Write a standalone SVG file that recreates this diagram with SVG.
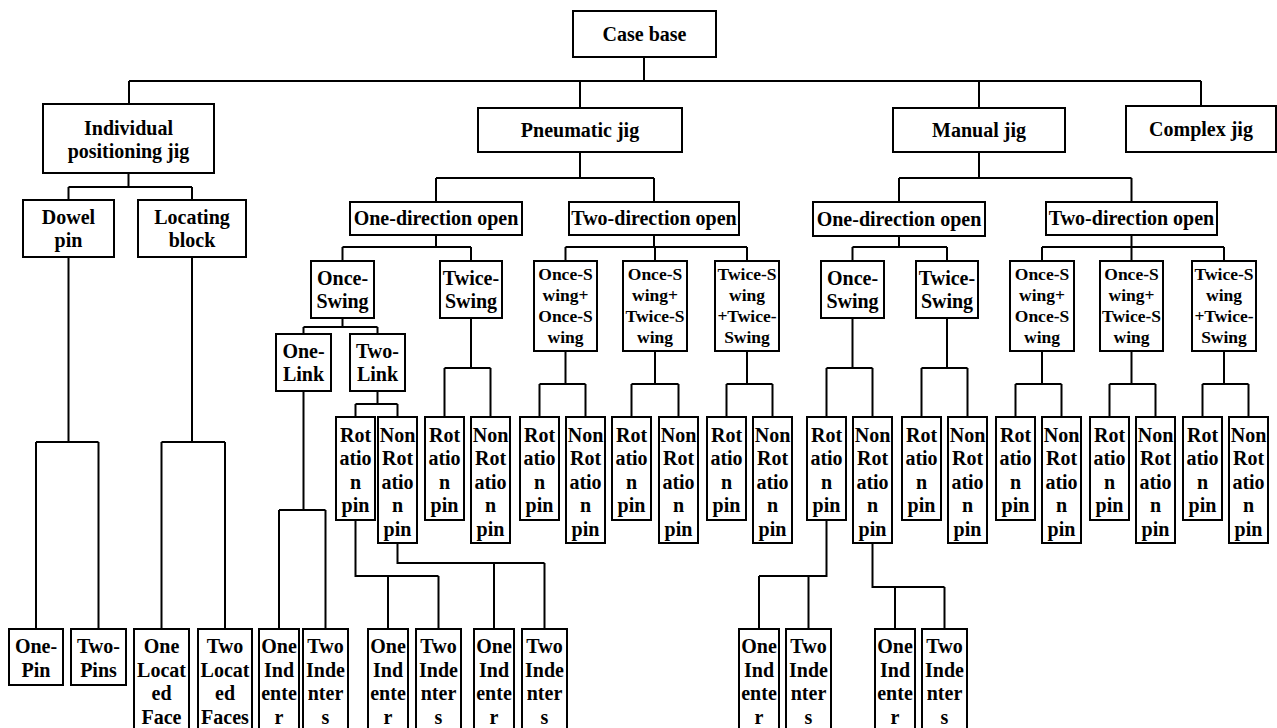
<svg xmlns="http://www.w3.org/2000/svg" width="1277" height="728" viewBox="0 0 1277 728">
<style>
.b{fill:#fff;stroke:#000;stroke-width:2}
.t{font-family:"Liberation Serif","Times New Roman",serif;font-weight:bold;font-size:20px;text-anchor:middle;fill:#000}
.s{font-size:17.5px}
.c{fill:none;stroke:#000;stroke-width:2}
</style>
<rect width="1277" height="728" fill="#fff"/>
<g id="connectors" class="c">
<path d="M644,57V81M129,81H1201M129,81V104M580,81V108M979,81V108M1201,81V106"/>
<path d="M128.5,173V187M68.5,187H192M68.5,187V200M192,187V200"/>
<path d="M68.5,257V442M36,442H98.5M36,442V629M98.5,442V629"/>
<path d="M192,257V442M161.5,442H225M161.5,442V629M225,442V629"/>
<path d="M580,152V178M436,178H654M436,178V202M654,178V202"/>
<path d="M436,235V247M342.5,247H471M342.5,247V261M471,247V261"/>
<path d="M654,235V247M565.5,247H747M565.5,247V261M655,247V261M747,247V261"/>
<path d="M342.5,318V327M303.5,327H377.5M303.5,327V334M377.5,327V334"/>
<path d="M303.5,391V510M279,510H325.5M279,510V629M325.5,510V629"/>
<path d="M377.5,391V404M355.5,404H397.5M355.5,404V417M397.5,404V417"/>
<path d="M471,318V368M444.5,368H490.5M444.5,368V417M490.5,368V417"/>
<path d="M565.5,351V384M539.5,384H585.5M539.5,384V417M585.5,384V417"/>
<path d="M655,351V384M631.5,384H678.5M631.5,384V417M678.5,384V417"/>
<path d="M747,351V384M726.5,384H772.5M726.5,384V417M772.5,384V417"/>
<path d="M355.5,520V576H438.5M388,576V629M438.5,576V629"/>
<path d="M397.5,543V563H544.5M494,563V629M544.5,563V629"/>
<path d="M979,152V178M899,178H1131.5M899,178V202M1131.5,178V202"/>
<path d="M899,236V247M852.5,247H947M852.5,247V261M947,247V261"/>
<path d="M1131.5,235V247M1042,247H1224M1042,247V261M1131.5,247V261M1224,247V261"/>
<path d="M852.5,318V368M826.5,368H872.5M826.5,368V417M872.5,368V417"/>
<path d="M947,318V368M921.5,368H967.5M921.5,368V417M967.5,368V417"/>
<path d="M1042,351V384M1015.5,384H1061.5M1015.5,384V417M1061.5,384V417"/>
<path d="M1131.5,351V384M1109.5,384H1155.5M1109.5,384V417M1155.5,384V417"/>
<path d="M1224,351V384M1202.5,384H1248.5M1202.5,384V417M1248.5,384V417"/>
<path d="M826.5,520V576H759M759,576V629M808.5,576V629"/>
<path d="M872.5,543V587H944.5M895,587V629M944.5,587V629"/>
</g>
<g id="case-base"><rect class="b" x="573" y="11" width="143" height="46"/><text class="t" x="644.5" y="41">Case base</text></g>
<g id="individual"><rect class="b" x="43" y="104" width="171" height="69"/><text class="t"><tspan x="128.5" y="135">Individual</tspan><tspan x="128.5" y="158">positioning jig</tspan></text></g>
<g id="pneumatic"><rect class="b" x="478" y="108" width="204" height="44"/><text class="t" x="580" y="137">Pneumatic jig</text></g>
<g id="manual"><rect class="b" x="893" y="108" width="172" height="44"/><text class="t" x="979" y="137">Manual jig</text></g>
<g id="complex"><rect class="b" x="1126" y="106" width="150" height="46"/><text class="t" x="1201" y="136">Complex jig</text></g>
<g id="dowel"><rect class="b" x="23" y="200" width="91" height="57"/><text class="t"><tspan x="68.5" y="223.5">Dowel</tspan><tspan x="68.5" y="246.5">pin</tspan></text></g>
<g id="locating"><rect class="b" x="138" y="200" width="108" height="57"/><text class="t"><tspan x="192" y="223.5">Locating</tspan><tspan x="192" y="246.5">block</tspan></text></g>
<g id="p-one-dir"><rect class="b" x="350" y="202" width="172" height="33"/><text class="t" x="436" y="225">One-direction open</text></g>
<g id="p-two-dir"><rect class="b" x="569" y="202" width="170" height="33"/><text class="t" x="654" y="225">Two-direction open</text></g>
<g id="m-one-dir"><rect class="b" x="813" y="202" width="172" height="34"/><text class="t" x="899" y="225.5">One-direction open</text></g>
<g id="m-two-dir"><rect class="b" x="1046" y="202" width="171" height="33"/><text class="t" x="1131.5" y="225">Two-direction open</text></g>
<g id="p-once-swing"><rect class="b" x="311" y="261" width="63" height="57"/><text class="t"><tspan x="342.5" y="284.5">Once-</tspan><tspan x="342.5" y="307.5">Swing</tspan></text></g>
<g id="p-twice-swing"><rect class="b" x="440" y="261" width="62" height="57"/><text class="t"><tspan x="471" y="284.5">Twice-</tspan><tspan x="471" y="307.5">Swing</tspan></text></g>
<g id="p-once-once"><rect class="b" x="534" y="261" width="63" height="90"/><text class="t s"><tspan x="565.5" y="280">Once-S</tspan><tspan x="565.5" y="301">wing+</tspan><tspan x="565.5" y="322">Once-S</tspan><tspan x="565.5" y="343">wing</tspan></text></g>
<g id="p-once-twice"><rect class="b" x="623" y="261" width="64" height="90"/><text class="t s"><tspan x="655" y="280">Once-S</tspan><tspan x="655" y="301">wing+</tspan><tspan x="655" y="322">Twice-S</tspan><tspan x="655" y="343">wing</tspan></text></g>
<g id="p-twice-twice"><rect class="b" x="715" y="261" width="64" height="90"/><text class="t s"><tspan x="747" y="280">Twice-S</tspan><tspan x="747" y="301">wing</tspan><tspan x="747" y="322">+Twice-</tspan><tspan x="747" y="343">Swing</tspan></text></g>
<g id="m-once-swing"><rect class="b" x="821" y="261" width="63" height="57"/><text class="t"><tspan x="852.5" y="284.5">Once-</tspan><tspan x="852.5" y="307.5">Swing</tspan></text></g>
<g id="m-twice-swing"><rect class="b" x="916" y="261" width="62" height="57"/><text class="t"><tspan x="947" y="284.5">Twice-</tspan><tspan x="947" y="307.5">Swing</tspan></text></g>
<g id="m-once-once"><rect class="b" x="1010" y="261" width="64" height="90"/><text class="t s"><tspan x="1042" y="280">Once-S</tspan><tspan x="1042" y="301">wing+</tspan><tspan x="1042" y="322">Once-S</tspan><tspan x="1042" y="343">wing</tspan></text></g>
<g id="m-once-twice"><rect class="b" x="1100" y="261" width="63" height="90"/><text class="t s"><tspan x="1131.5" y="280">Once-S</tspan><tspan x="1131.5" y="301">wing+</tspan><tspan x="1131.5" y="322">Twice-S</tspan><tspan x="1131.5" y="343">wing</tspan></text></g>
<g id="m-twice-twice"><rect class="b" x="1192" y="261" width="64" height="90"/><text class="t s"><tspan x="1224" y="280">Twice-S</tspan><tspan x="1224" y="301">wing</tspan><tspan x="1224" y="322">+Twice-</tspan><tspan x="1224" y="343">Swing</tspan></text></g>
<g id="one-link"><rect class="b" x="276" y="334" width="55" height="57"/><text class="t"><tspan x="303.5" y="357.5">One-</tspan><tspan x="303.5" y="380.5">Link</tspan></text></g>
<g id="two-link"><rect class="b" x="350" y="334" width="55" height="57"/><text class="t"><tspan x="377.5" y="357.5">Two-</tspan><tspan x="377.5" y="380.5">Link</tspan></text></g>
<g id="rot1"><rect class="b" x="336" y="417" width="39" height="103"/><text class="t"><tspan x="355.5" y="441.5">Rot</tspan><tspan x="355.5" y="465">atio</tspan><tspan x="355.5" y="488.5">n</tspan><tspan x="355.5" y="512">pin</tspan></text></g>
<g id="non1"><rect class="b" x="378" y="417" width="39" height="126"/><text class="t"><tspan x="397.5" y="441.5">Non</tspan><tspan x="397.5" y="465">Rot</tspan><tspan x="397.5" y="488.5">atio</tspan><tspan x="397.5" y="512">n</tspan><tspan x="397.5" y="535.5">pin</tspan></text></g>
<g id="rot2"><rect class="b" x="425" y="417" width="39" height="103"/><text class="t"><tspan x="444.5" y="441.5">Rot</tspan><tspan x="444.5" y="465">atio</tspan><tspan x="444.5" y="488.5">n</tspan><tspan x="444.5" y="512">pin</tspan></text></g>
<g id="non2"><rect class="b" x="471" y="417" width="39" height="126"/><text class="t"><tspan x="490.5" y="441.5">Non</tspan><tspan x="490.5" y="465">Rot</tspan><tspan x="490.5" y="488.5">atio</tspan><tspan x="490.5" y="512">n</tspan><tspan x="490.5" y="535.5">pin</tspan></text></g>
<g id="rot3"><rect class="b" x="520" y="417" width="39" height="103"/><text class="t"><tspan x="539.5" y="441.5">Rot</tspan><tspan x="539.5" y="465">atio</tspan><tspan x="539.5" y="488.5">n</tspan><tspan x="539.5" y="512">pin</tspan></text></g>
<g id="non3"><rect class="b" x="566" y="417" width="39" height="126"/><text class="t"><tspan x="585.5" y="441.5">Non</tspan><tspan x="585.5" y="465">Rot</tspan><tspan x="585.5" y="488.5">atio</tspan><tspan x="585.5" y="512">n</tspan><tspan x="585.5" y="535.5">pin</tspan></text></g>
<g id="rot4"><rect class="b" x="612" y="417" width="39" height="103"/><text class="t"><tspan x="631.5" y="441.5">Rot</tspan><tspan x="631.5" y="465">atio</tspan><tspan x="631.5" y="488.5">n</tspan><tspan x="631.5" y="512">pin</tspan></text></g>
<g id="non4"><rect class="b" x="659" y="417" width="39" height="126"/><text class="t"><tspan x="678.5" y="441.5">Non</tspan><tspan x="678.5" y="465">Rot</tspan><tspan x="678.5" y="488.5">atio</tspan><tspan x="678.5" y="512">n</tspan><tspan x="678.5" y="535.5">pin</tspan></text></g>
<g id="rot5"><rect class="b" x="707" y="417" width="39" height="103"/><text class="t"><tspan x="726.5" y="441.5">Rot</tspan><tspan x="726.5" y="465">atio</tspan><tspan x="726.5" y="488.5">n</tspan><tspan x="726.5" y="512">pin</tspan></text></g>
<g id="non5"><rect class="b" x="753" y="417" width="39" height="126"/><text class="t"><tspan x="772.5" y="441.5">Non</tspan><tspan x="772.5" y="465">Rot</tspan><tspan x="772.5" y="488.5">atio</tspan><tspan x="772.5" y="512">n</tspan><tspan x="772.5" y="535.5">pin</tspan></text></g>
<g id="rot6"><rect class="b" x="807" y="417" width="39" height="103"/><text class="t"><tspan x="826.5" y="441.5">Rot</tspan><tspan x="826.5" y="465">atio</tspan><tspan x="826.5" y="488.5">n</tspan><tspan x="826.5" y="512">pin</tspan></text></g>
<g id="non6"><rect class="b" x="853" y="417" width="39" height="126"/><text class="t"><tspan x="872.5" y="441.5">Non</tspan><tspan x="872.5" y="465">Rot</tspan><tspan x="872.5" y="488.5">atio</tspan><tspan x="872.5" y="512">n</tspan><tspan x="872.5" y="535.5">pin</tspan></text></g>
<g id="rot7"><rect class="b" x="902" y="417" width="39" height="103"/><text class="t"><tspan x="921.5" y="441.5">Rot</tspan><tspan x="921.5" y="465">atio</tspan><tspan x="921.5" y="488.5">n</tspan><tspan x="921.5" y="512">pin</tspan></text></g>
<g id="non7"><rect class="b" x="948" y="417" width="39" height="126"/><text class="t"><tspan x="967.5" y="441.5">Non</tspan><tspan x="967.5" y="465">Rot</tspan><tspan x="967.5" y="488.5">atio</tspan><tspan x="967.5" y="512">n</tspan><tspan x="967.5" y="535.5">pin</tspan></text></g>
<g id="rot8"><rect class="b" x="996" y="417" width="39" height="103"/><text class="t"><tspan x="1015.5" y="441.5">Rot</tspan><tspan x="1015.5" y="465">atio</tspan><tspan x="1015.5" y="488.5">n</tspan><tspan x="1015.5" y="512">pin</tspan></text></g>
<g id="non8"><rect class="b" x="1042" y="417" width="39" height="126"/><text class="t"><tspan x="1061.5" y="441.5">Non</tspan><tspan x="1061.5" y="465">Rot</tspan><tspan x="1061.5" y="488.5">atio</tspan><tspan x="1061.5" y="512">n</tspan><tspan x="1061.5" y="535.5">pin</tspan></text></g>
<g id="rot9"><rect class="b" x="1090" y="417" width="39" height="103"/><text class="t"><tspan x="1109.5" y="441.5">Rot</tspan><tspan x="1109.5" y="465">atio</tspan><tspan x="1109.5" y="488.5">n</tspan><tspan x="1109.5" y="512">pin</tspan></text></g>
<g id="non9"><rect class="b" x="1136" y="417" width="39" height="126"/><text class="t"><tspan x="1155.5" y="441.5">Non</tspan><tspan x="1155.5" y="465">Rot</tspan><tspan x="1155.5" y="488.5">atio</tspan><tspan x="1155.5" y="512">n</tspan><tspan x="1155.5" y="535.5">pin</tspan></text></g>
<g id="rot10"><rect class="b" x="1183" y="417" width="39" height="103"/><text class="t"><tspan x="1202.5" y="441.5">Rot</tspan><tspan x="1202.5" y="465">atio</tspan><tspan x="1202.5" y="488.5">n</tspan><tspan x="1202.5" y="512">pin</tspan></text></g>
<g id="non10"><rect class="b" x="1229" y="417" width="39" height="126"/><text class="t"><tspan x="1248.5" y="441.5">Non</tspan><tspan x="1248.5" y="465">Rot</tspan><tspan x="1248.5" y="488.5">atio</tspan><tspan x="1248.5" y="512">n</tspan><tspan x="1248.5" y="535.5">pin</tspan></text></g>
<g id="one-pin"><rect class="b" x="9" y="629" width="54" height="56"/><text class="t"><tspan x="36" y="653">One-</tspan><tspan x="36" y="676.5">Pin</tspan></text></g>
<g id="two-pins"><rect class="b" x="71" y="629" width="55" height="56"/><text class="t"><tspan x="98.5" y="653">Two-</tspan><tspan x="98.5" y="676.5">Pins</tspan></text></g>
<g id="one-face"><rect class="b" x="134" y="629" width="55" height="110"/><text class="t"><tspan x="161.5" y="653">One</tspan><tspan x="161.5" y="676.5">Locat</tspan><tspan x="161.5" y="700">ed</tspan><tspan x="161.5" y="723.5">Face</tspan></text></g>
<g id="two-faces"><rect class="b" x="198" y="629" width="54" height="110"/><text class="t"><tspan x="225" y="653">Two</tspan><tspan x="225" y="676.5">Locat</tspan><tspan x="225" y="700">ed</tspan><tspan x="225" y="723.5">Faces</tspan></text></g>
<g id="one-ind1"><rect class="b" x="259" y="629" width="40" height="110"/><text class="t"><tspan x="279" y="653">One</tspan><tspan x="279" y="676.5">Ind</tspan><tspan x="279" y="700">ente</tspan><tspan x="279" y="723.5">r</tspan></text></g>
<g id="two-ind1"><rect class="b" x="303" y="629" width="45" height="110"/><text class="t"><tspan x="325.5" y="653">Two</tspan><tspan x="325.5" y="676.5">Inde</tspan><tspan x="325.5" y="700">nter</tspan><tspan x="325.5" y="723.5">s</tspan></text></g>
<g id="one-ind2"><rect class="b" x="368" y="629" width="40" height="110"/><text class="t"><tspan x="388" y="653">One</tspan><tspan x="388" y="676.5">Ind</tspan><tspan x="388" y="700">ente</tspan><tspan x="388" y="723.5">r</tspan></text></g>
<g id="two-ind2"><rect class="b" x="416" y="629" width="45" height="110"/><text class="t"><tspan x="438.5" y="653">Two</tspan><tspan x="438.5" y="676.5">Inde</tspan><tspan x="438.5" y="700">nter</tspan><tspan x="438.5" y="723.5">s</tspan></text></g>
<g id="one-ind3"><rect class="b" x="474" y="629" width="40" height="110"/><text class="t"><tspan x="494" y="653">One</tspan><tspan x="494" y="676.5">Ind</tspan><tspan x="494" y="700">ente</tspan><tspan x="494" y="723.5">r</tspan></text></g>
<g id="two-ind3"><rect class="b" x="522" y="629" width="45" height="110"/><text class="t"><tspan x="544.5" y="653">Two</tspan><tspan x="544.5" y="676.5">Inde</tspan><tspan x="544.5" y="700">nter</tspan><tspan x="544.5" y="723.5">s</tspan></text></g>
<g id="one-ind4"><rect class="b" x="739" y="629" width="40" height="110"/><text class="t"><tspan x="759" y="653">One</tspan><tspan x="759" y="676.5">Ind</tspan><tspan x="759" y="700">ente</tspan><tspan x="759" y="723.5">r</tspan></text></g>
<g id="two-ind4"><rect class="b" x="786" y="629" width="45" height="110"/><text class="t"><tspan x="808.5" y="653">Two</tspan><tspan x="808.5" y="676.5">Inde</tspan><tspan x="808.5" y="700">nter</tspan><tspan x="808.5" y="723.5">s</tspan></text></g>
<g id="one-ind5"><rect class="b" x="875" y="629" width="40" height="110"/><text class="t"><tspan x="895" y="653">One</tspan><tspan x="895" y="676.5">Ind</tspan><tspan x="895" y="700">ente</tspan><tspan x="895" y="723.5">r</tspan></text></g>
<g id="two-ind5"><rect class="b" x="922" y="629" width="45" height="110"/><text class="t"><tspan x="944.5" y="653">Two</tspan><tspan x="944.5" y="676.5">Inde</tspan><tspan x="944.5" y="700">nter</tspan><tspan x="944.5" y="723.5">s</tspan></text></g>
</svg>
